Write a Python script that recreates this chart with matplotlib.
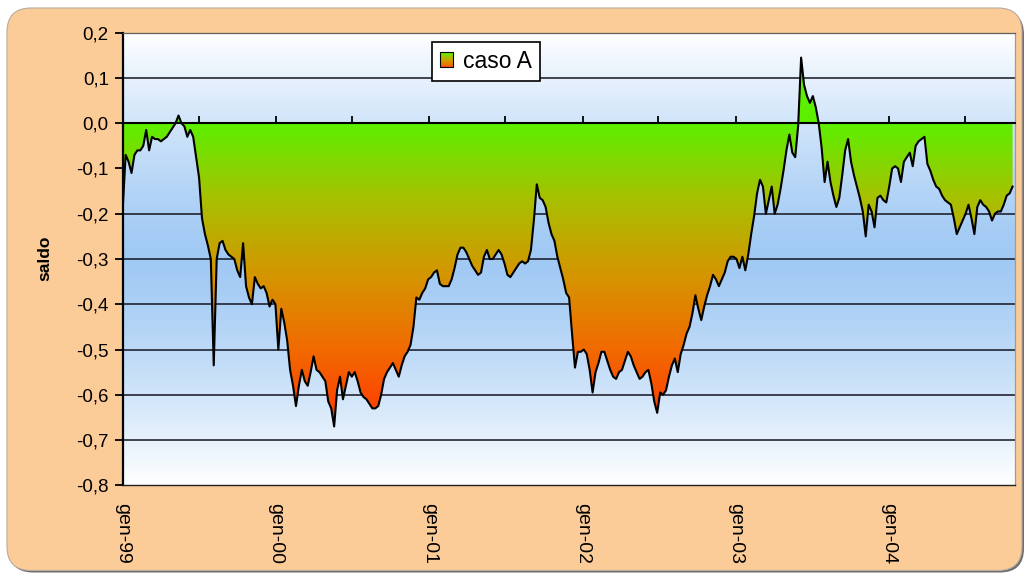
import numpy as np
import pandas as pd
import matplotlib
matplotlib.use("Agg")
import matplotlib.pyplot as plt
from matplotlib.patches import FancyBboxPatch, Rectangle, Patch
from matplotlib.colors import LinearSegmentedColormap, to_rgb
from matplotlib.legend_handler import HandlerBase
from matplotlib.transforms import IdentityTransform
from matplotlib.path import Path
import matplotlib.dates as mdates

plt.rcParams["font.family"] = ["Liberation Sans", "DejaVu Sans"]

# weekly balance, starting from the first week of 1999
saldo = [
    -0.19, -0.07, -0.085, -0.11, -0.07, -0.06, -0.06, -0.05, -0.015, -0.06,
    -0.03, -0.035, -0.035, -0.04, -0.035, -0.03, -0.02, -0.01, 0.0, 0.017,
    0.0, -0.007, -0.03, -0.015, -0.03, -0.075, -0.12, -0.21, -0.245, -0.27,
    -0.30, -0.535, -0.30, -0.265, -0.26, -0.28, -0.29, -0.295, -0.30, -0.325,
    -0.34, -0.265, -0.36, -0.385, -0.40, -0.34, -0.355, -0.365, -0.36, -0.375,
    -0.405, -0.39, -0.40, -0.50, -0.41, -0.44, -0.48, -0.545, -0.58, -0.625,
    -0.58, -0.545, -0.57, -0.58, -0.55, -0.515, -0.545, -0.55, -0.56, -0.57,
    -0.615, -0.63, -0.67, -0.59, -0.56, -0.61, -0.58, -0.55, -0.56, -0.55,
    -0.57, -0.595, -0.605, -0.61, -0.62, -0.63, -0.63, -0.625, -0.60, -0.565,
    -0.55, -0.54, -0.53, -0.545, -0.56, -0.535, -0.515, -0.505, -0.49, -0.45,
    -0.385, -0.39, -0.375, -0.365, -0.345, -0.34, -0.33, -0.325, -0.355, -0.36,
    -0.36, -0.36, -0.345, -0.32, -0.29, -0.275, -0.275, -0.285, -0.30, -0.315,
    -0.325, -0.335, -0.33, -0.295, -0.28, -0.30, -0.30, -0.29, -0.28, -0.29,
    -0.31, -0.335, -0.34, -0.33, -0.32, -0.31, -0.305, -0.31, -0.305, -0.28,
    -0.215, -0.135, -0.165, -0.17, -0.185, -0.22, -0.245, -0.26, -0.295, -0.32,
    -0.345, -0.375, -0.385, -0.465, -0.54, -0.505, -0.505, -0.50, -0.51, -0.545,
    -0.595, -0.55, -0.53, -0.505, -0.505, -0.525, -0.545, -0.56, -0.565, -0.55,
    -0.545, -0.525, -0.505, -0.515, -0.535, -0.55, -0.565, -0.56, -0.55, -0.545,
    -0.575, -0.615, -0.64, -0.595, -0.60, -0.59, -0.56, -0.535, -0.52, -0.55,
    -0.51, -0.49, -0.465, -0.45, -0.42, -0.38, -0.41, -0.435, -0.405, -0.38,
    -0.36, -0.335, -0.345, -0.36, -0.345, -0.33, -0.305, -0.295, -0.295, -0.30,
    -0.32, -0.295, -0.325, -0.29, -0.245, -0.205, -0.155, -0.125, -0.14, -0.20,
    -0.17, -0.14, -0.20, -0.18, -0.145, -0.105, -0.06, -0.025, -0.065, -0.075,
    -0.005, 0.145, 0.085, 0.06, 0.045, 0.06, 0.035, 0.0, -0.055, -0.13,
    -0.085, -0.13, -0.16, -0.185, -0.165, -0.115, -0.06, -0.035, -0.085, -0.115,
    -0.14, -0.165, -0.195, -0.25, -0.18, -0.195, -0.23, -0.165, -0.16, -0.17,
    -0.175, -0.14, -0.10, -0.095, -0.10, -0.13, -0.085, -0.075, -0.065, -0.095,
    -0.05, -0.04, -0.035, -0.03, -0.09, -0.105, -0.125, -0.14, -0.145, -0.16,
    -0.17, -0.175, -0.18, -0.21, -0.245, -0.23, -0.215, -0.20, -0.18, -0.21,
    -0.245, -0.185, -0.17, -0.18, -0.185, -0.195, -0.215, -0.20, -0.195, -0.195,
    -0.18, -0.16, -0.155, -0.14,
]
start_date = "1999-01-01"
end_date = "2004-10-29"
series_label = "caso A"
y_label = "saldo"

y_ticks = [0.2, 0.1, 0.0, -0.1, -0.2, -0.3, -0.4, -0.5, -0.6, -0.7, -0.8]
y_tick_labels = ["0,2", "0,1", "0,0", "-0,1", "-0,2", "-0,3", "-0,4",
                 "-0,5", "-0,6", "-0,7", "-0,8"]
year_ticks = ["1999-01-01", "2000-01-01", "2001-01-01", "2002-01-01",
              "2003-01-01", "2004-01-01"]
year_labels = ["gen-99", "gen-00", "gen-01", "gen-02", "gen-03", "gen-04"]
half_year_ticks = ["1999-07-01", "2000-07-01", "2001-07-01", "2002-07-01",
                   "2003-07-01", "2004-07-01"]
grid_levels = [0.1, -0.2, -0.3, -0.4, -0.5, -0.6, -0.7]

dates = pd.date_range(start_date, periods=len(saldo), freq="7D")

W, H = 1026, 573
fig = plt.figure(figsize=(W / 100, H / 100), dpi=100)
fig.patch.set_facecolor("white")

# rounded chart frame with a soft shadow
shadow = FancyBboxPatch((9, 0.5), 1015, 562, boxstyle="round,pad=0,rounding_size=24",
                        transform=IdentityTransform(), facecolor="#6e6e6e",
                        edgecolor="none", zorder=-3)
frame = FancyBboxPatch((7, 2.5), 1015, 562.5, boxstyle="round,pad=0,rounding_size=24",
                       transform=IdentityTransform(), facecolor="#FBCB98",
                       edgecolor="#b9ab9c", linewidth=0.8, zorder=-2)
fig.add_artist(shadow)
fig.add_artist(frame)

left_px, right_px, top_px, bottom_px = 122.7, 1015.5, 32.7, 485.3
ax = fig.add_axes([left_px / W, 1 - bottom_px / H,
                   (right_px - left_px) / W, (bottom_px - top_px) / H])
ax.patch.set_facecolor("white")

# plot-area background: white at the edges, blue in the middle
tt = np.linspace(0, 1, 256)
dist = np.abs(tt - 0.5) * 2
blue = np.array(to_rgb("#A0C9F4"))
bg = blue[None, :] + (1 - blue[None, :]) * (dist[:, None] ** 1.3)
ax.imshow(bg[:, None, :], extent=(0, 1, 0, 1), transform=ax.transAxes,
          origin="lower", aspect="auto", interpolation="bilinear", zorder=0)

for lv in grid_levels:
    ax.axhline(lv, color="#141420", linewidth=1.1, zorder=1)

# area between the series and zero, filled with a green-to-red gradient
fill_cmap = LinearSegmentedColormap.from_list(
    "saldo_fill", ["#FF3800", "#F26A00", "#D49600", "#A8C000", "#5CF000"])
poly = ax.fill_between(dates, saldo, 0, facecolor="none", edgecolor="none", zorder=2)
clip = Path.make_compound_path(*poly.get_paths())
x0n = mdates.date2num(pd.Timestamp(start_date))
x1n = mdates.date2num(pd.Timestamp(end_date))
lo = min(saldo)
yy = np.linspace(lo, 0.2, 400)
tg = np.clip((yy - lo) / (0 - lo), 0, 1)
grad = fill_cmap(tg)[:, None, :3]
img = ax.imshow(grad, extent=(x0n, x1n, lo, 0.2), origin="lower",
                aspect="auto", interpolation="bilinear", zorder=2)
img.set_clip_path(clip, ax.transData)

ax.plot(dates, saldo, color="black", linewidth=1.5, zorder=3)

ax.set_xlim(pd.Timestamp(start_date), pd.Timestamp(end_date))
ax.set_ylim(-0.8, 0.2)

# zero line carries the date tick marks
ax.spines["top"].set_position(("data", 0))
ax.spines["top"].set_color("black")
ax.spines["top"].set_linewidth(1.5)
ax.spines["left"].set_color("black")
ax.spines["left"].set_linewidth(1.6)
ax.spines["bottom"].set_color("#202020")
ax.spines["bottom"].set_linewidth(1.0)
ax.spines["right"].set_color("#a89886")
ax.spines["right"].set_linewidth(0.9)
ax.plot([0, 1], [1, 1], transform=ax.transAxes, color="#606060",
        linewidth=0.9, clip_on=False, zorder=4)

ax.set_xticks(pd.to_datetime(year_ticks))
ax.set_xticklabels(year_labels, rotation=-90, fontsize=14)
ax.set_xticks(pd.to_datetime(half_year_ticks), minor=True)
ax.tick_params(axis="x", which="both", top=True, bottom=False,
               labeltop=False, labelbottom=True, direction="out",
               length=5, width=1.3, pad=7.5, colors="black")

ax.set_yticks(y_ticks)
ax.set_yticklabels(y_tick_labels, fontsize=13.5)
ax.tick_params(axis="y", which="both", left=True, right=False,
               direction="out", length=5.5, width=1.3, pad=4.5)

fig.text(45 / W, 1 - 258 / H, y_label, rotation=90, fontweight="bold",
         fontsize=12.5, ha="center", va="center")


class GradientSwatch(HandlerBase):
    def create_artists(self, legend, orig_handle, xdescent, ydescent,
                       width, height, fontsize, trans):
        n = 14
        arts = []
        for k in range(n):
            c = fill_cmap(0.15 + 0.85 * (k + 0.5) / n)
            arts.append(Rectangle((-xdescent, -ydescent + k * height / n),
                                  width, height / n, facecolor=c,
                                  edgecolor="none", transform=trans))
        arts.append(Rectangle((-xdescent, -ydescent), width, height,
                              facecolor="none", edgecolor="black",
                              linewidth=0.8, transform=trans))
        return arts


swatch = Patch(facecolor="#C08A00")
leg = ax.legend([swatch], [series_label], handler_map={swatch: GradientSwatch()},
                loc="upper left", bbox_to_anchor=(0.3464, 0.9795),
                borderaxespad=0, fancybox=False, framealpha=1,
                edgecolor="black", fontsize=16.5, handlelength=0.57,
                handleheight=0.63, handletextpad=0.45, borderpad=0.35)
leg.get_frame().set_linewidth(1.2)
leg.set_zorder(6)

fig.savefig("out.png", dpi=100)
